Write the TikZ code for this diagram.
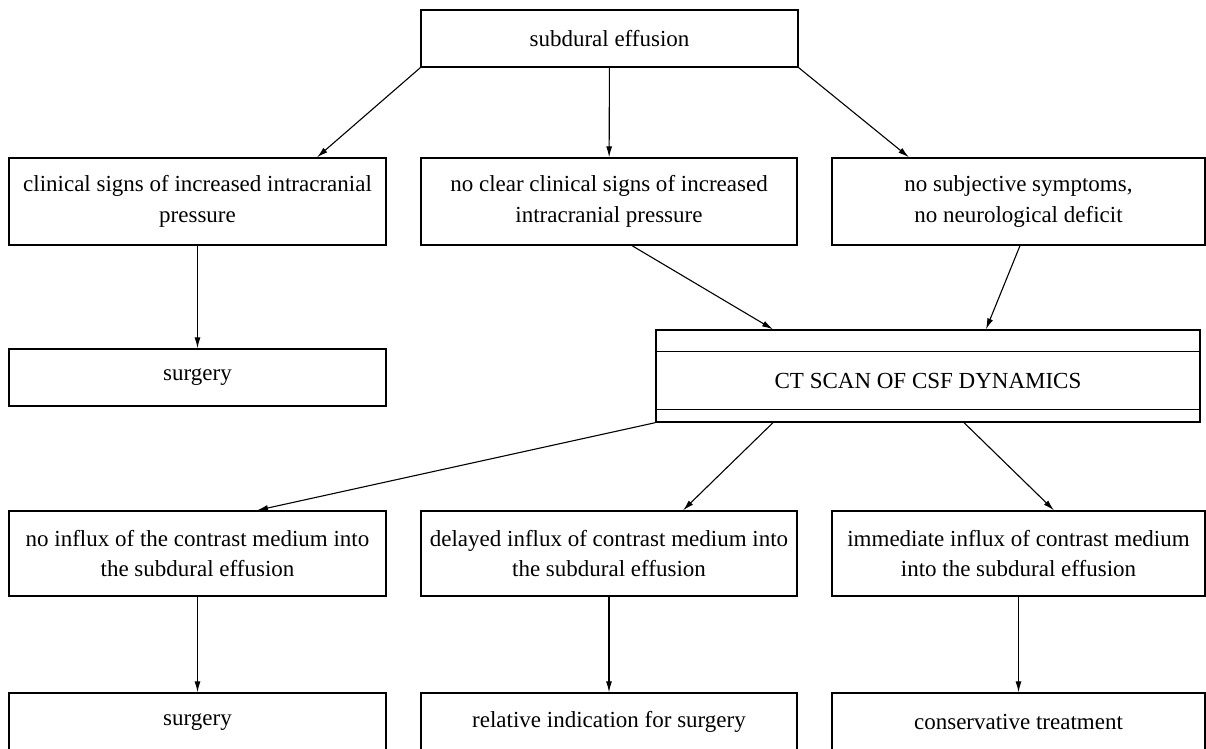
\documentclass[tikz,border=0pt]{standalone}
\usepackage{fontspec}
\setmainfont{Liberation Serif}
\usetikzlibrary{arrows.meta}
\begin{document}
\begin{tikzpicture}[x=1pt,y=-1pt,
  box/.style={draw, line width=1.3pt, inner sep=0pt, align=center,
    font=\fontsize{23}{30.5}\selectfont},
  colA/.style={box, minimum width=377pt},
  colB/.style={box, minimum width=376pt},
  colC/.style={box, minimum width=373pt},
  tall/.style={minimum height=87pt},
  short/.style={minimum height=57pt},
  arr/.style={line width=1.1pt, -{Latex[length=11pt,width=6pt]}},
  lbl/.style={inner sep=0pt, font=\fontsize{23}{30.5}\selectfont}]
\useasboundingbox (0,0) rectangle (1206,748);
% row 1
\node[colA, short] (top) at (609.5,38.5) {subdural effusion};
% row 2
\node[colA, tall] (A2) at (197.5,201.5) {clinical signs of increased intracranial\\pressure};
\node[colB, tall] (B2) at (609,201.5) {no clear clinical signs of increased\\intracranial pressure};
\node[colC, tall] (C2) at (1018.5,201.5) {no subjective symptoms,\\no neurological deficit};
% row 3
\node[colA, short] (S3) at (197.5,377.5) {surgery};
\node[box, minimum width=544pt, minimum height=92pt] (ct) at (928,376) {};
\node[lbl] (ctl) at (928,381) {CT SCAN OF CSF DYNAMICS};
\draw[line width=1.3pt] ([yshift=-22pt]ct.north west) -- ([yshift=-22pt]ct.north east);
\draw[line width=1.3pt] ([yshift=13pt]ct.south west) -- ([yshift=13pt]ct.south east);
% row 4
\node[colA, minimum height=85pt] (A4) at (197.5,553.5) {no influx of the contrast medium into\\the subdural effusion};
\node[colB, minimum height=85pt] (B4) at (609,553.5) {delayed influx of contrast medium into\\the subdural effusion};
\node[colC, minimum height=85pt] (C4) at (1018.5,553.5) {immediate influx of contrast medium\\into the subdural effusion};
% row 5
\node[colA, minimum height=58pt] (A5) at (197.5,722) {surgery};
\node[colB, minimum height=58pt] (B5) at (609,722) {relative indication for surgery};
\node[colC, minimum height=58pt] (C5) at (1018.5,722) {conservative treatment};
% connectors
\draw[arr] (top.south west) -- ([xshift=119.5pt]A2.north);
\draw[arr] (top) -- (B2);
\draw[arr] (top.south east) -- ([xshift=-109.5pt]C2.north);
\draw[arr] (A2) -- (S3);
\draw[arr] ([xshift=23pt]B2.south) -- ([xshift=-155pt]ct.north);
\draw[arr] ([xshift=1.5pt]C2.south) -- ([xshift=58pt]ct.north);
\draw[arr] (ct.south west) -- ([xshift=59.5pt]A4.north);
\draw[arr] ([xshift=-155pt]ct.south) -- ([xshift=74pt]B4.north);
\draw[arr] ([xshift=36pt]ct.south) -- ([xshift=35.5pt]C4.north);
\draw[arr] (A4) -- (A5);
\draw[arr] (B4) -- (B5);
\draw[arr] (C4) -- (C5);
\end{tikzpicture}
\end{document}
